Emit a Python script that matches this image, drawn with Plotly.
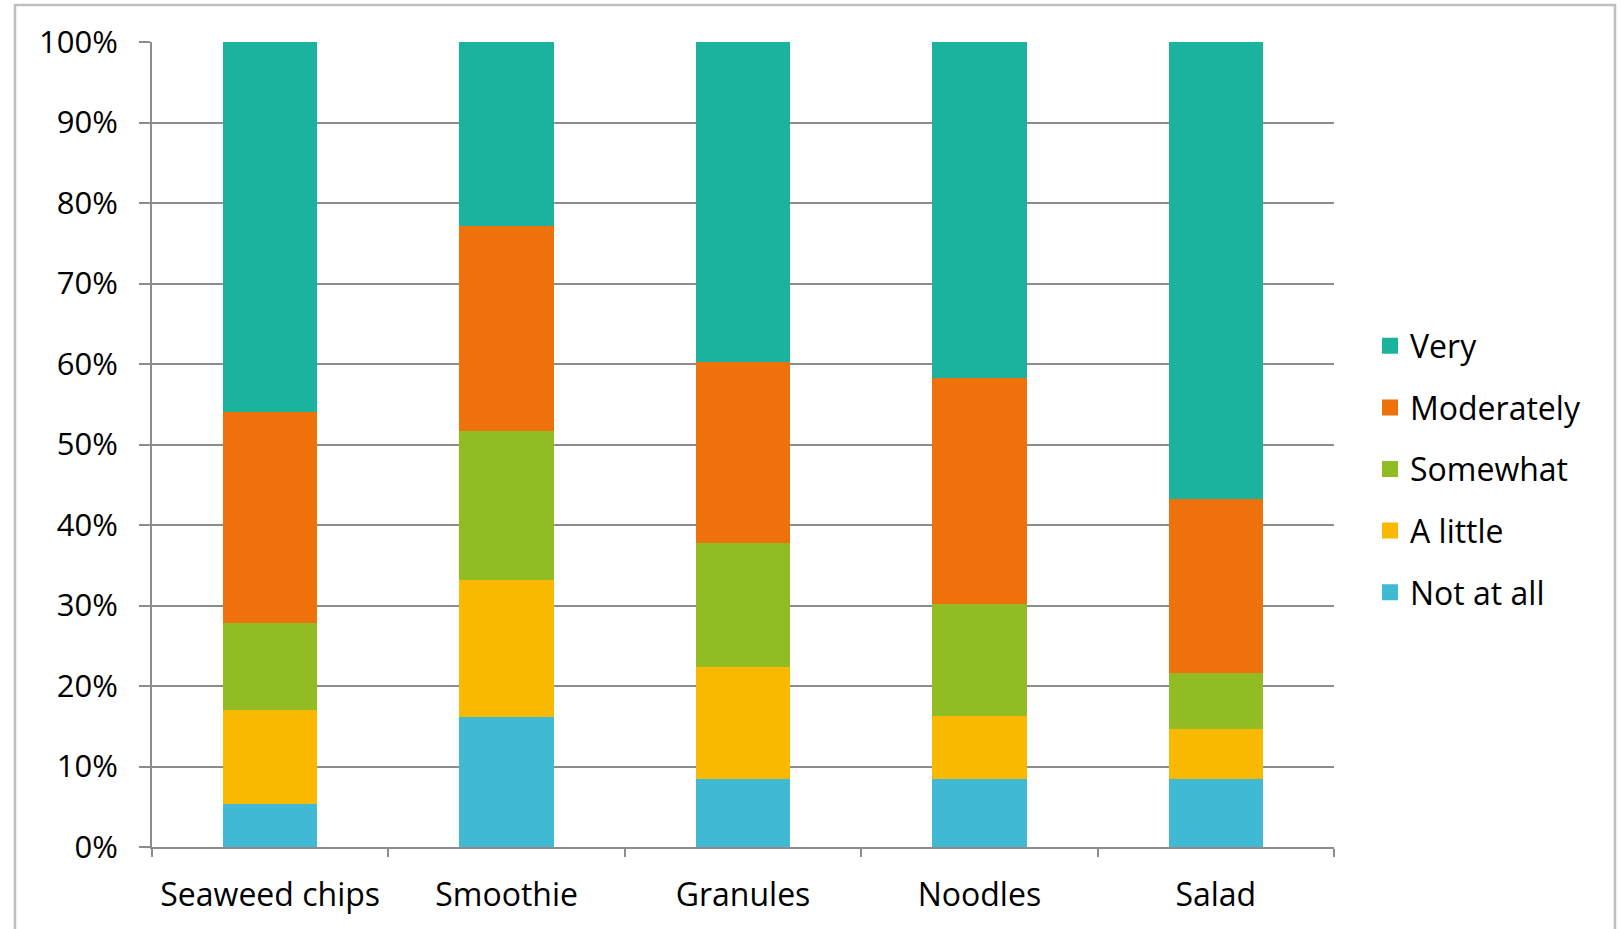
import plotly.graph_objects as go

categories = ["Seaweed chips", "Smoothie", "Granules", "Noodles", "Salad"]
not_at_all = [5.4, 16.2, 8.5, 8.5, 8.5]
a_little = [11.6, 17.0, 13.9, 7.8, 6.2]
somewhat = [10.8, 18.5, 15.4, 13.9, 6.9]
moderately = [26.2, 25.4, 22.4, 28.0, 21.6]
very = [46.0, 22.9, 39.8, 41.8, 56.8]
y_ticks = [0, 10, 20, 30, 40, 50, 60, 70, 80, 90, 100]
y_tick_labels = ["0%", "10%", "20%", "30%", "40%", "50%", "60%", "70%", "80%", "90%", "100%"]

series = [
    ("Not at all", not_at_all, "#40B9D4"),
    ("A little", a_little, "#F8B900"),
    ("Somewhat", somewhat, "#92BC24"),
    ("Moderately", moderately, "#EE710B"),
    ("Very", very, "#1BB39E"),
]

FONT = "Open Sans"

fig = go.Figure()
for name, vals, col in series:
    fig.add_trace(go.Bar(
        x=categories, y=vals, name=name, legendgroup=name, showlegend=False,
        marker=dict(color=col, line=dict(width=0)),
    ))
# legend entries (square swatches), top-to-bottom: Very ... Not at all
for name, vals, col in reversed(series):
    fig.add_trace(go.Scatter(
        x=[None], y=[None], mode="markers", name=name, legendgroup=name,
        marker=dict(symbol="square", size=20, color=col),
    ))

L, R, T, B = 152, 1334, 42, 847
W, H = 1622, 929
fig.update_layout(
    width=W, height=H,
    barmode="stack", bargap=0.6,
    plot_bgcolor="white", paper_bgcolor="white",
    margin=dict(l=L, r=W - R, t=T, b=H - B, pad=0),
    font=dict(family=FONT, size=30, color="black"),
    showlegend=True,
    legend=dict(
        traceorder="grouped", tracegroupgap=17, itemsizing="trace",
        x=(1370 - L) / (R - L), xanchor="left",
        y=(B - 469) / (B - T), yanchor="middle",
        font=dict(family=FONT, size=32, color="black"),
        bgcolor="rgba(0,0,0,0)",
        itemwidth=30,
    ),
    xaxis=dict(
        showline=True, linecolor="#8C8C8C", linewidth=2,
        ticks="outside", tickson="boundaries", ticklen=8, tickcolor="#8C8C8C", tickwidth=2,
        showgrid=False, tickfont=dict(family=FONT, size=32, color="black"),
        ticklabelstandoff=19,
    ),
    yaxis=dict(
        range=[0, 100], tickmode="array", tickvals=y_ticks, ticktext=y_tick_labels,
        showline=True, linecolor="#8C8C8C", linewidth=2,
        showgrid=True, gridcolor="#8C8C8C", gridwidth=1.5,
        ticks="outside", ticklen=11, tickcolor="#8C8C8C", tickwidth=1.5,
        tickfont=dict(family=FONT, size=31, color="black"),
        ticklabelstandoff=15,
        zeroline=False,
    ),
    shapes=[dict(
        type="rect", xref="paper", yref="paper",
        x0=(15 - L) / (R - L), x1=(1615 - L) / (R - L),
        y0=(B - 935) / (B - T), y1=(B - 5) / (B - T),
        line=dict(color="#BFBFBF", width=2.5), fillcolor="rgba(0,0,0,0)", layer="below",
    )],
)

fig.write_html("out.html")
